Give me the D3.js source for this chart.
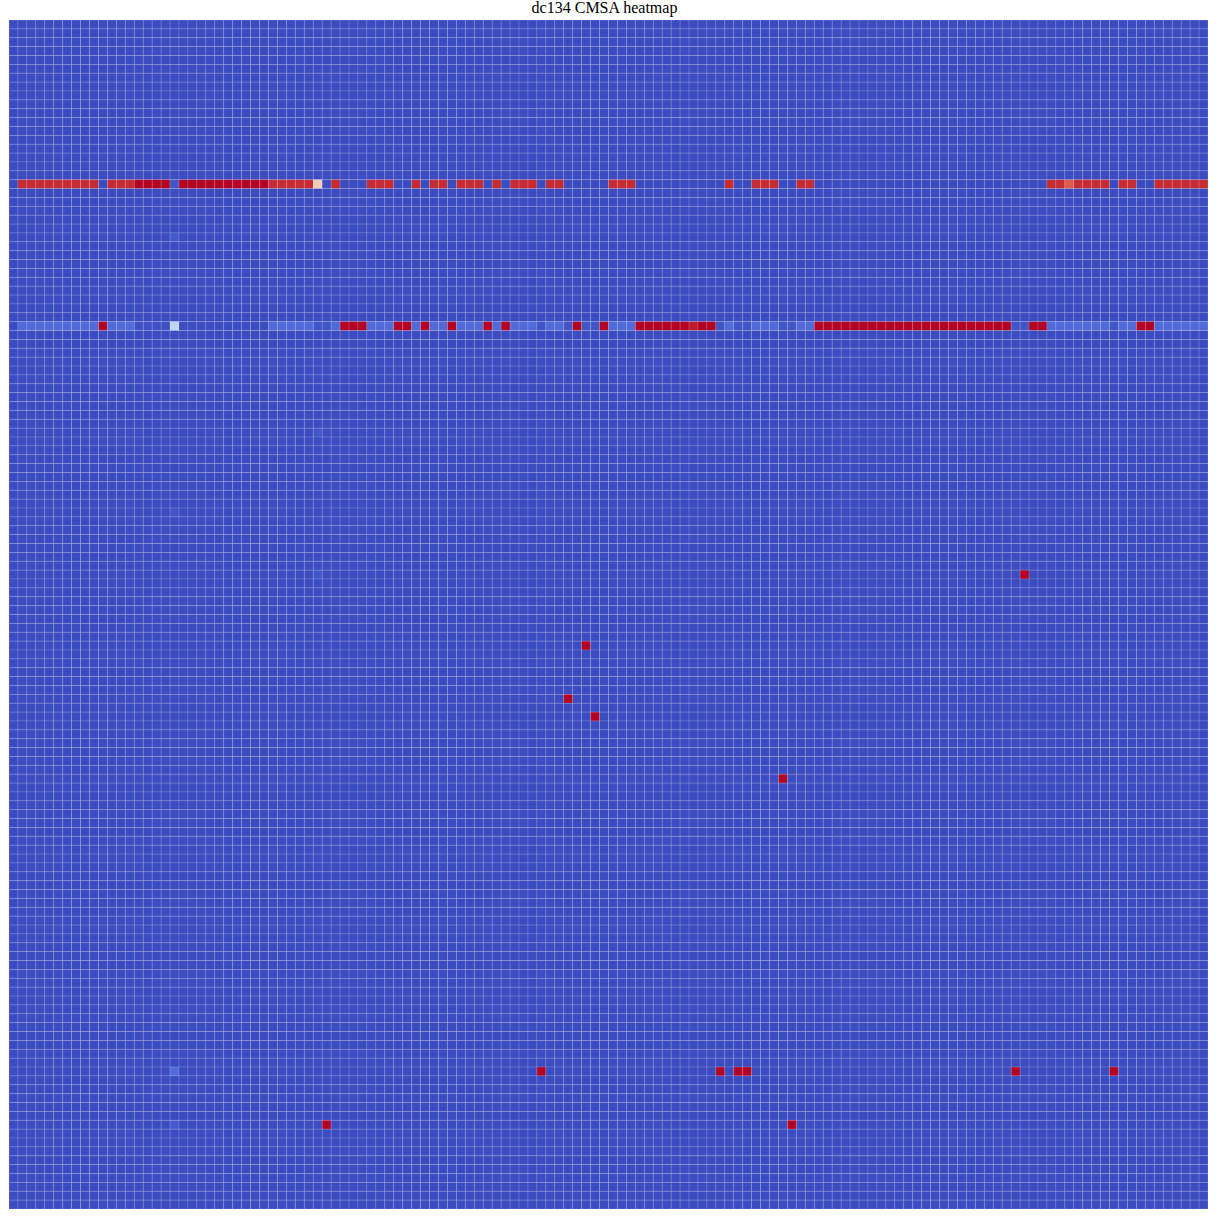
<!DOCTYPE html>
<html>
<head>
<meta charset="utf-8">
<script src="https://d3js.org/d3.v7.min.js"></script>
<style>
  body { margin: 0; background: #fff; }
</style>
</head>
<body>
<div id="chart"></div>
<script>
var n = 134;

// rows 18 and 34 carry almost all of the signal
var row18 = [
  0, .95, .95, .95, .95, .95, .95, .95, .95, .95,
  0, .95, .95, .95, 1, 1, 1, 1, .02, 1,
  1, 1, 1, 1, 1, 1, 1, 1, 1, .95,
  .95, .95, .95, .95, .6, 0, .95, 0, 0, 0,
  .95, .95, .95, 0, 0, .95, 0, .95, .95, 0,
  .95, .95, .95, 0, .95, 0, .95, .95, .95, 0,
  .95, .95, 0, 0, 0, 0, 0, .95, .95, .95,
  0, 0, 0, 0, 0, 0, 0, 0, 0, 0,
  .95, 0, 0, .95, .95, .95, 0, 0, .95, .95,
  0, 0, 0, 0, 0, 0, 0, 0, 0, 0,
  0, 0, 0, 0, 0, 0, 0, 0, 0, 0,
  0, 0, 0, 0, 0, 0, .95, .95, .88, .95,
  .95, .95, .95, 0, .95, .95, 0, 0, .95, .95,
  .95, .95, .95, .95
];

var row34 = [
  0, .07, .07, .07, .07, .07, .07, .07, .07, .07,
  1, .07, .07, .07, .01, .01, .01, .01, .4, 0,
  0, 0, 0, 0, 0, 0, 0, 0, 0, .07,
  .07, .07, .07, .07, .02, .02, .07, 1, 1, 1,
  .07, .07, .07, 1, 1, .07, 1, .07, .07, 1,
  .07, .07, .07, 1, .07, 1, .07, .07, .07, .02,
  .07, .07, .02, 1, .02, .02, 1, .07, .07, .07,
  1, 1, 1, 1, 1, 1, .97, 1, 1, .02,
  .07, .02, .02, .07, .07, .07, .02, .02, .07, .07,
  1, 1, 1, 1, 1, 1, 1, 1, 1, 1,
  1, 1, 1, 1, 1, 1, 1, 1, 1, 1,
  1, 1, .02, .02, 1, 1, .07, .07, .07, .07,
  .07, .07, .07, .02, .07, .07, 1, 1, .07, .07,
  .07, .07, .07, .07
];

// other non-zero cells: [row, col, value]
var spots = [
  [62, 113, 1], [70, 64, 1], [76, 62, 1], [78, 65, 1], [85, 86, 1],
  [118, 59, 1], [118, 79, 1], [118, 81, 1], [118, 82, 1], [118, 112, 1], [118, 123, 1],
  [124, 35, 1], [124, 87, 1],
  [24, 18, .03], [55, 18, .015], [118, 18, .07], [124, 18, .03],
  [46, 34, .02], [62, 34, .02]
];

var coolwarm = ["#3b4cc0", "#5977e3", "#7b9ff9", "#9ebeff", "#c0d4f5", "#dddcdc",
                "#f2cbb7", "#f7ac8e", "#ee8468", "#d65244", "#b40426"];

// build the matrix
var cells = [];
for (var r = 0; r < n; r++) {
  for (var c = 0; c < n; c++) {
    var v = 0;
    if (r == 18) v = row18[c];
    if (r == 34) v = row34[c];
    cells.push({row: r, col: c, value: v});
  }
}
spots.forEach(function(s) {
  cells[s[0] * n + s[1]].value = s[2];
});

var fullwidth = 1218, fullheight = 1218;
var margin = {top: 20, right: 10, bottom: 9, left: 9};

var svg = d3.select("#chart").append("svg")
    .attr("width", fullwidth)
    .attr("height", fullheight);

var xScale = d3.scaleBand()
    .domain(d3.range(n))
    .range([margin.left, fullwidth - margin.right]);

var yScale = d3.scaleBand()
    .domain(d3.range(n))
    .range([margin.top, fullheight - margin.bottom]);

var color = d3.scaleLinear()
    .domain(d3.range(coolwarm.length).map(function(i) { return i / (coolwarm.length - 1); }))
    .range(coolwarm);

svg.append("g")
    .selectAll("rect.cell")
    .data(cells)
    .enter()
    .append("rect")
    .attr("class", "cell")
    .attr("x", function(d) { return xScale(d.col); })
    .attr("y", function(d) { return yScale(d.row); })
    .attr("width", xScale.bandwidth())
    .attr("height", yScale.bandwidth())
    .attr("fill", function(d) { return color(d.value); })
    .attr("stroke", "rgba(255,255,255,0.16)")
    .attr("stroke-width", 0.8);

svg.append("text")
    .attr("x", 604.5)
    .attr("y", 13)
    .attr("text-anchor", "middle")
    .style("font-family", "'Liberation Serif', 'Times New Roman', serif")
    .style("font-size", "16px")
    .text("dc134 CMSA heatmap");
</script>
</body>
</html>
